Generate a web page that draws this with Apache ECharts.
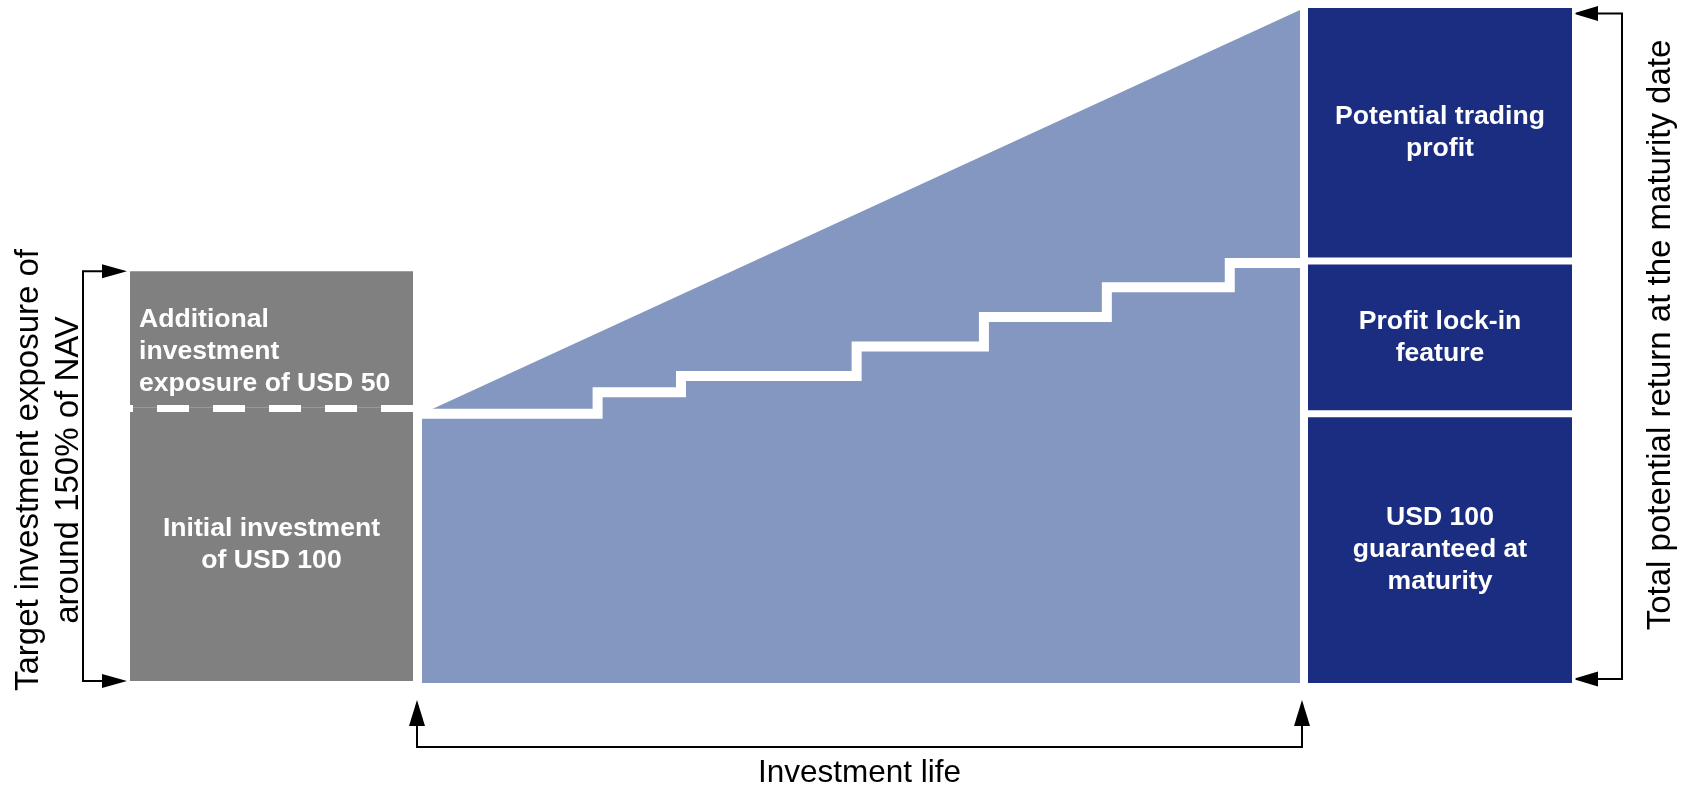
<!DOCTYPE html>
<html>
<head>
<meta charset="utf-8">
<script src="https://cdn.jsdelivr.net/npm/echarts@6/dist/echarts.min.js"></script>
<style>
  html, body { margin: 0; padding: 0; background: #ffffff; }
  #chart { width: 1684px; height: 792px; }
</style>
</head>
<body>
<div id="chart"></div>
<script>
// Capital at entry (USD): initial investment plus the additional exposure on top
const entryLabels = ['Initial investment\nof USD 100', 'Additional\ninvestment\nexposure of USD 50'];
const entryValues = [100, 50];

// Investment life (0 = launch, 100 = maturity) and the value paths over it
const potentialTime = [0, 100];
const potentialValue = [100, 250];
const lockTime = [0, 20, 29.5, 49.5, 64, 78, 92, 100];
const lockLevel = [100, 108, 114, 125, 136, 147, 156, 156];

// Components of the total return at maturity, bottom to top
const maturityLabels = ['USD 100\nguaranteed at\nmaturity', 'Profit lock-in\nfeature', 'Potential trading\nprofit'];
const maturityValues = [100, 56, 94];

// Annotation texts
const exposureText = 'Target investment exposure of\naround 150% of NAV';
const returnText = 'Total potential return at the maturity date';
const lifeText = 'Investment life';

const FONT = "'Liberation Sans', Arial, Helvetica, sans-serif";
const GREY = '#808080';
const STEEL = '#8497C0';
const NAVY = '#1A2D80';

const boxLabel = {
  color: '#ffffff',
  fontFamily: FONT,
  fontWeight: 'bold',
  fontSize: 26.6,
  lineHeight: 32
};

const chart = echarts.init(document.getElementById('chart'), null, { renderer: 'canvas' });

const series = [];

// Entry column: stacked grey blocks
entryValues.forEach((v, i) => {
  const s = {
    name: entryLabels[i],
    type: 'bar',
    xAxisIndex: 0,
    yAxisIndex: 0,
    stack: 'entry',
    barWidth: '100%',
    data: [v],
    itemStyle: { color: GREY },
    label: Object.assign({
      show: true,
      formatter: entryLabels[i]
    }, boxLabel, i === 0
      ? { position: 'inside', align: 'center' }
      : { position: 'insideLeft', distance: 9, align: 'left', offset: [0, 12] }),
    silent: true
  };
  if (i === 0) {
    // dashed divider between the initial capital and the extra exposure
    s.markLine = {
      silent: true,
      symbol: ['none', 'none'],
      label: { show: false },
      lineStyle: { color: '#ffffff', width: 7, type: [32, 24], dashOffset: 29, opacity: 1 },
      data: [{ yAxis: entryValues[0] }]
    };
  }
  series.push(s);
});

// Potential value over the investment life (filled area)
series.push({
  name: 'Potential value',
  type: 'line',
  xAxisIndex: 1,
  yAxisIndex: 1,
  data: potentialTime.map((t, i) => [t, potentialValue[i]]),
  symbol: 'none',
  lineStyle: { width: 0 },
  areaStyle: { color: STEEL, opacity: 1, origin: 'start' },
  silent: true,
  z: 2
});

// Locked-in level, stepping up over time
series.push({
  name: 'Locked-in level',
  type: 'line',
  step: 'end',
  xAxisIndex: 1,
  yAxisIndex: 1,
  data: lockTime.map((t, i) => [t, lockLevel[i]]),
  symbol: 'none',
  lineStyle: { color: '#ffffff', width: 10, cap: 'butt', join: 'miter' },
  silent: true,
  z: 3
});

// Maturity column: stacked navy blocks separated by white gaps
maturityValues.forEach((v, i) => {
  series.push({
    name: maturityLabels[i],
    type: 'bar',
    xAxisIndex: 2,
    yAxisIndex: 2,
    stack: 'maturity',
    barWidth: '100%',
    data: [v],
    itemStyle: { color: NAVY, borderColor: '#ffffff', borderWidth: 3.5 },
    label: Object.assign({ show: true, position: 'inside', align: 'center', formatter: maturityLabels[i] }, boxLabel),
    silent: true
  });
});

const layout = {
  entry: { left: 130, right: 1271, top: 263, bottom: 111 },
  life: { left: 422, right: 384, top: 10, bottom: 109 },
  maturity: { left: 1304.5, right: 108.5, top: 4.5, bottom: 105.5 }
};

chart.setOption({
  animation: false,
  backgroundColor: '#ffffff',
  grid: [layout.entry, layout.life, layout.maturity],
  xAxis: [
    { gridIndex: 0, type: 'category', data: ['entry'], show: false },
    { gridIndex: 1, type: 'value', min: 0, max: 100, show: false },
    { gridIndex: 2, type: 'category', data: ['maturity'], show: false }
  ],
  yAxis: [
    { gridIndex: 0, type: 'value', min: 0, max: 153, show: false },
    { gridIndex: 1, type: 'value', min: 0, max: 250, show: false },
    { gridIndex: 2, type: 'value', min: 0, max: 250, show: false }
  ],
  series: series
});

// Bracket arrows and side captions, placed from the axes' pixel positions
const W = 1684;
const yPx = (axis, v) => chart.convertToPixel({ yAxisIndex: axis }, v);
const xPx = (axis, v) => chart.convertToPixel({ xAxisIndex: axis }, v);

const entryTop = yPx(0, entryValues[0] + entryValues[1]);
const entryBottom = yPx(0, 0);
const entryLeft = layout.entry.left;

const matTotal = maturityValues.reduce((a, b) => a + b, 0);
const matTop = yPx(2, matTotal) + 9;
const matBottom = yPx(2, 0) - 7.5;
const matRight = W - layout.maturity.right - 3.5;

const lifeStart = xPx(1, potentialTime[0]) - 5;
const lifeEnd = xPx(1, potentialTime[potentialTime.length - 1]) + 2;

const stroke = { stroke: '#000000', lineWidth: 2, fill: null };
const head = { fill: '#000000' };

function tri(tip, base1, base2) {
  return { type: 'polygon', shape: { points: [tip, base1, base2] }, style: head, silent: true };
}
function poly(points) {
  return { type: 'polyline', shape: { points: points }, style: stroke, silent: true };
}

const L = 83;            // left bracket spine
const Lbase = entryLeft - 28;
const Ltip = entryLeft - 3;
const R = 1622;          // right bracket spine
const Rtip = matRight + 1;
const Rbase = Rtip + 25;
const By = 747;          // bottom bracket line
const Btip = 700;
const Bbase = 726;

const graphic = [
  // left bracket
  poly([[Lbase, entryTop], [L, entryTop], [L, entryBottom], [Lbase, entryBottom]]),
  tri([Ltip, entryTop], [Lbase, entryTop - 7], [Lbase, entryTop + 7]),
  tri([Ltip, entryBottom], [Lbase, entryBottom - 7], [Lbase, entryBottom + 7]),
  // right bracket
  poly([[Rbase, matTop], [R, matTop], [R, matBottom], [Rbase, matBottom]]),
  tri([Rtip, matTop], [Rbase, matTop - 7.5], [Rbase, matTop + 7.5]),
  tri([Rtip, matBottom], [Rbase, matBottom - 7.5], [Rbase, matBottom + 7.5]),
  // bottom bracket
  poly([[lifeStart, Bbase], [lifeStart, By], [lifeEnd, By], [lifeEnd, Bbase]]),
  tri([lifeStart, Btip], [lifeStart - 8, Bbase], [lifeStart + 8, Bbase]),
  tri([lifeEnd, Btip], [lifeEnd - 8, Bbase], [lifeEnd + 8, Bbase]),
  // captions
  {
    type: 'text', x: 49, y: 470, rotation: Math.PI / 2, silent: true,
    style: {
      text: exposureText, fill: '#000000', font: '33px ' + FONT,
      align: 'center', verticalAlign: 'middle', lineHeight: 40
    }
  },
  {
    type: 'text', x: 1661, y: 335, rotation: Math.PI / 2, silent: true,
    style: {
      text: returnText, fill: '#000000', font: '33px ' + FONT,
      align: 'center', verticalAlign: 'middle'
    }
  },
  {
    type: 'text', x: (lifeStart + lifeEnd) / 2, y: 773, silent: true,
    style: {
      text: lifeText, fill: '#000000', font: '31.5px ' + FONT,
      align: 'center', verticalAlign: 'middle'
    }
  }
];

chart.setOption({ graphic: graphic });
</script>
</body>
</html>
